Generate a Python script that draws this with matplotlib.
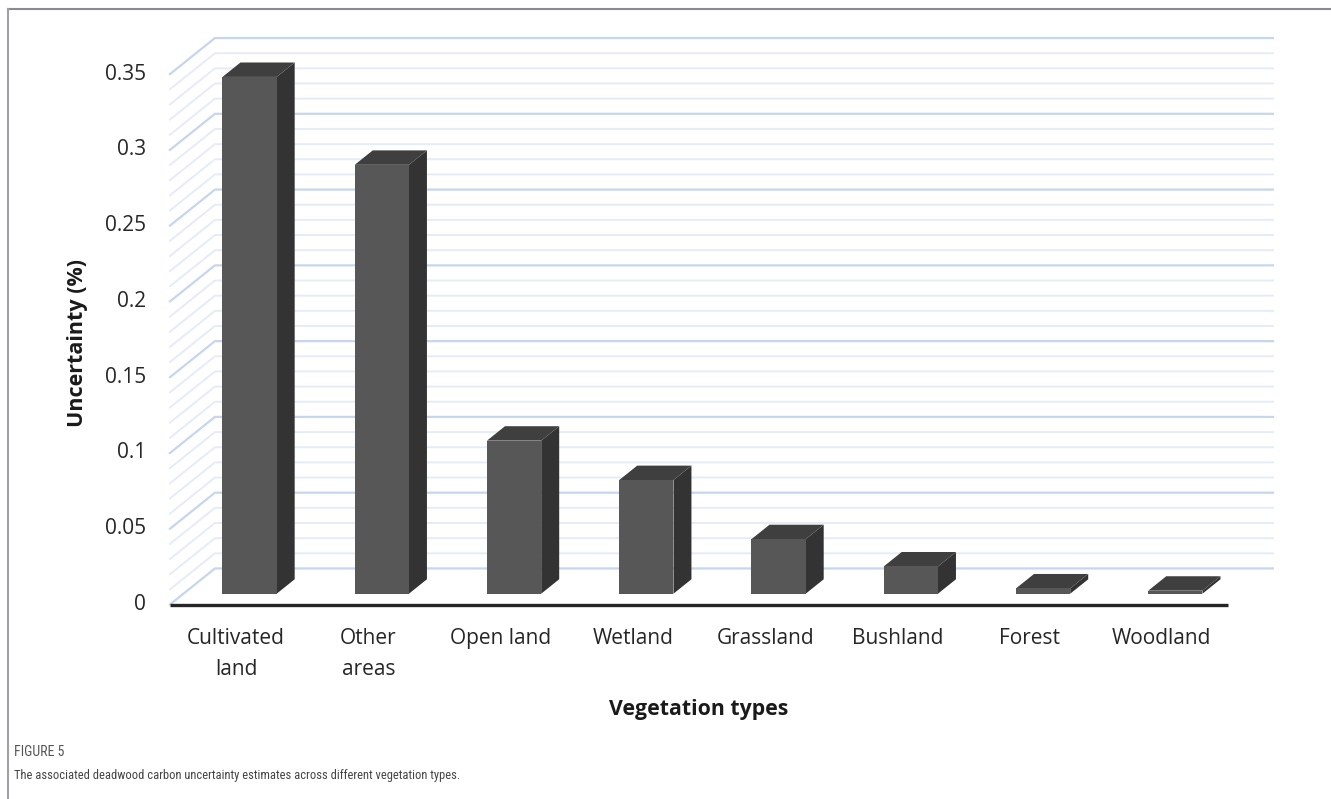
import numpy as np
import matplotlib.pyplot as plt
from matplotlib.patches import Polygon
from matplotlib.lines import Line2D

categories = ['Cultivated\nland', 'Other\nareas', 'Open land', 'Wetland',
              'Grassland', 'Bushland', 'Forest', 'Woodland']
uncertainty = [0.341, 0.283, 0.101, 0.075, 0.036, 0.018, 0.0035, 0.002]
y_ticks = [0, 0.05, 0.1, 0.15, 0.2, 0.25, 0.3, 0.35]
y_tick_labels = ['0', '0.05', '0.1', '0.15', '0.2', '0.25', '0.3', '0.35']

# oblique "3D" depth of the chart box, in data units
DX, DY = 0.34, 0.0238
bar_w = 0.41
d0, d1 = 0.3, 0.7   # front / back of the bars as a fraction of the depth

plt.rcParams['font.family'] = ['Open Sans', 'DejaVu Sans']

fig = plt.figure(figsize=(13.31, 7.99), dpi=100)
ax = fig.add_axes([0.1277, 0.2434, 0.8287, 0.709])
ax.set_xlim(-0.5, len(categories) - 0.5 + DX)
ax.set_ylim(0, 0.35 + DY)
ax.axis('off')

# back wall + side wall gridlines
x_left, x_right = -0.5, len(categories) - 0.5
for k in range(36):
    v = k * 0.01
    major = k % 5 == 0
    ax.plot([x_left, x_left + DX, x_right + DX], [v, v + DY, v + DY],
            color='#c8d5ee' if major else '#e6ecf7', lw=1.6 if major else 1.4,
            zorder=1, clip_on=False)

# bars
ddx, ddy = (d1 - d0) * DX, (d1 - d0) * DY
for i, val in enumerate(uncertainty):
    x0 = i - bar_w / 2 + d0 * DX
    y0 = d0 * DY
    x1 = x0 + bar_w
    top = y0 + val
    side = [(x1, y0), (x1 + ddx, y0 + ddy), (x1 + ddx, top + ddy), (x1, top)]
    lid = [(x0, top), (x1, top), (x1 + ddx, top + ddy), (x0 + ddx, top + ddy)]
    front = [(x0, y0), (x1, y0), (x1, top), (x0, top)]
    ax.add_patch(Polygon(side, closed=True, fc='#333333', ec='none', zorder=3))
    ax.add_patch(Polygon(lid, closed=True, fc='#3f3f3f', ec='none', zorder=3))
    ax.add_patch(Polygon(front, closed=True, fc='#575757', ec='none', zorder=4))

# floor axis line
ax.plot([x_left, x_right], [0, 0], color='#262626', lw=2.4, zorder=5,
        clip_on=False, solid_capstyle='butt')

# tick labels
for v, lab in zip(y_ticks, y_tick_labels):
    ax.text(x_left - 0.18, v, lab, ha='right', va='center', fontsize=15,
            color='#262626')
for i, cat in enumerate(categories):
    ax.text(i, -0.0155, cat, ha='center', va='top', fontsize=15,
            color='#262626', linespacing=1.62)

fig.text(78 / 1331, 1 - 343 / 799, 'Uncertainty (%)', rotation=90,
         ha='center', va='center', fontsize=15.5, fontweight='bold',
         color='#1a1a1a')
fig.text(699 / 1331, 1 - 710 / 799, 'Vegetation types', ha='center',
         va='center', fontsize=15.3, fontweight='bold', color='#1a1a1a')

# caption
cap_font = ['Roboto Condensed', 'Roboto', 'DejaVu Sans']
fig.text(14 / 1331, 1 - 752 / 799, 'FIGURE 5', ha='left', va='center',
         fontsize=10, color='#555555', family=cap_font)
fig.text(14 / 1331, 1 - 776 / 799,
         'The associated deadwood carbon uncertainty estimates across '
         'different vegetation types.',
         ha='left', va='center', fontsize=9, color='#444444',
         family=cap_font)

# outer frame (top and left edges)
fig.add_artist(Line2D([8 / 1331, 1], [1 - 9 / 799, 1 - 9 / 799],
                      color='#8a8a92', lw=1.5))
fig.add_artist(Line2D([8 / 1331, 8 / 1331], [0, 1 - 9 / 799],
                      color='#a0a0a8', lw=1.5))

fig.savefig('out.png', dpi=100)
